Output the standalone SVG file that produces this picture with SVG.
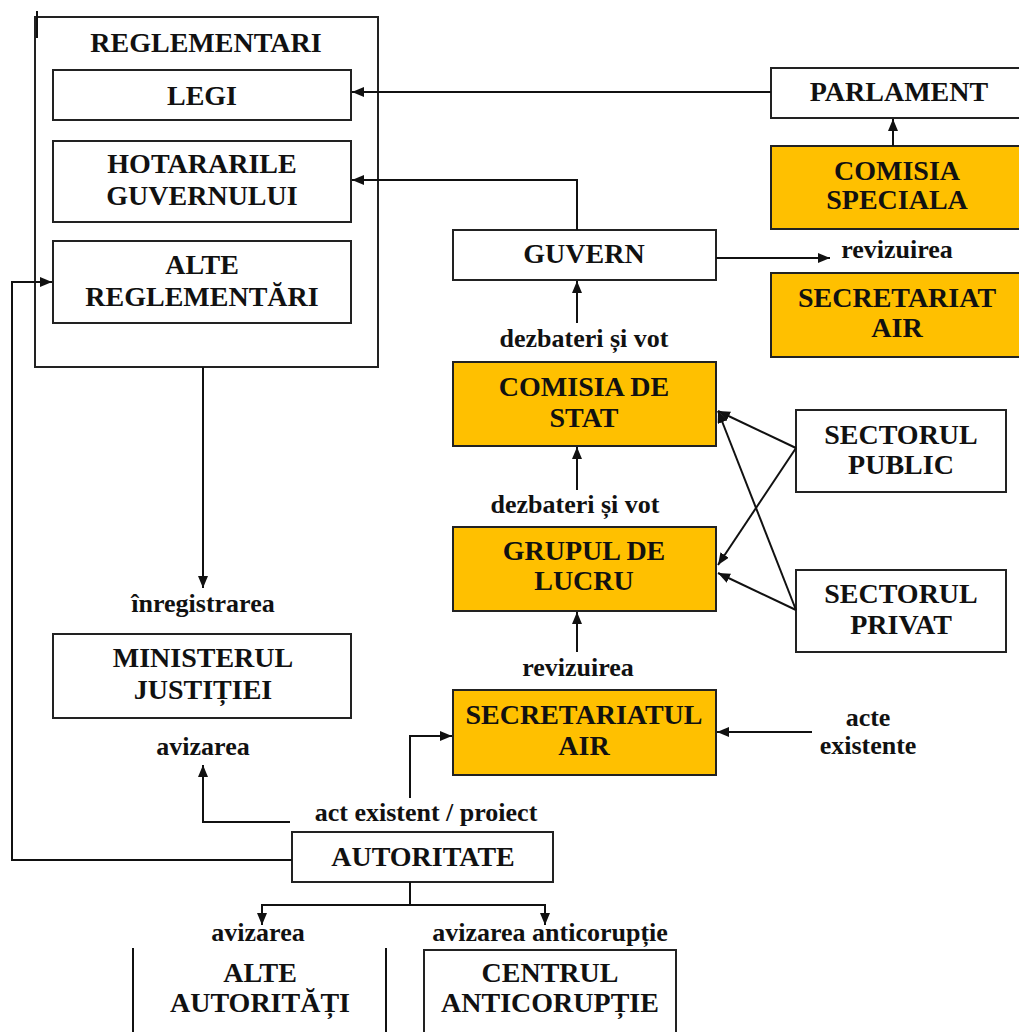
<svg xmlns="http://www.w3.org/2000/svg" width="1019" height="1032" viewBox="0 0 1019 1032">
  <defs>
    <marker id="arr" viewBox="0 0 12 10" refX="12" refY="5" markerWidth="12" markerHeight="10" markerUnits="userSpaceOnUse" orient="auto">
      <path d="M0,0 L12,5 L0,10 z" fill="#111"/>
    </marker>
    <style>
      .box { fill: #ffffff; stroke: #222; stroke-width: 2; }
      .hl { fill: #FFC000; stroke: #222; stroke-width: 2; }
      .t { font-family: "Liberation Serif", "Times New Roman", serif; font-weight: bold; font-size: 28px; fill: #111; text-anchor: middle; }
      .lbl { font-family: "Liberation Serif", "Times New Roman", serif; font-weight: bold; font-size: 26px; fill: #111; text-anchor: middle; }
      .c { fill: none; stroke: #111; stroke-width: 2; }
      .ca { fill: none; stroke: #111; stroke-width: 2; marker-end: url(#arr); }
    </style>
  </defs>
  <rect width="1019" height="1032" fill="#ffffff"/>

  <!-- Regulations container -->
  <g id="reglementari">
    <rect class="box" x="35" y="17" width="343" height="350"/>
    <line x1="37" y1="11" x2="37" y2="38" stroke="#111" stroke-width="2"/>
    <text class="t" x="206" y="52">REGLEMENTARI</text>
  </g>
  <g id="legi">
    <rect class="box" x="53" y="70" width="298" height="50"/>
    <text class="t" x="202" y="105">LEGI</text>
  </g>
  <g id="hotararile">
    <rect class="box" x="53" y="141" width="298" height="81"/>
    <text class="t" x="202" y="173">HOTARARILE</text>
    <text class="t" x="202" y="205">GUVERNULUI</text>
  </g>
  <g id="alte-reglementari">
    <rect class="box" x="53" y="241" width="298" height="82"/>
    <text class="t" x="202" y="274">ALTE</text>
    <text class="t" x="202" y="306">REGLEMENTĂRI</text>
  </g>

  <!-- Parliament side -->
  <g id="parlament">
    <rect class="box" x="771" y="68" width="260" height="50"/>
    <text class="t" x="899" y="101">PARLAMENT</text>
  </g>
  <g id="comisia-speciala">
    <rect class="hl" x="771" y="146" width="260" height="83"/>
    <text class="t" x="897" y="180">COMISIA</text>
    <text class="t" x="897" y="209">SPECIALA</text>
  </g>
  <g id="secretariat-air">
    <rect class="hl" x="771" y="273" width="260" height="84"/>
    <text class="t" x="897" y="307">SECRETARIAT</text>
    <text class="t" x="897" y="337">AIR</text>
  </g>

  <!-- Government chain -->
  <g id="guvern">
    <rect class="box" x="453" y="230" width="263" height="50"/>
    <text class="t" x="584" y="263">GUVERN</text>
  </g>
  <g id="comisia-de-stat">
    <rect class="hl" x="453" y="362" width="263" height="84"/>
    <text class="t" x="584" y="396">COMISIA DE</text>
    <text class="t" x="584" y="427">STAT</text>
  </g>
  <g id="grupul-de-lucru">
    <rect class="hl" x="453" y="527" width="263" height="84"/>
    <text class="t" x="584" y="560">GRUPUL DE</text>
    <text class="t" x="584" y="590">LUCRU</text>
  </g>
  <g id="secretariatul-air">
    <rect class="hl" x="453" y="690" width="263" height="85"/>
    <text class="t" x="584" y="724">SECRETARIATUL</text>
    <text class="t" x="584" y="755">AIR</text>
  </g>

  <!-- Sectors -->
  <g id="sectorul-public">
    <rect class="box" x="796" y="410" width="210" height="82"/>
    <text class="t" x="901" y="444">SECTORUL</text>
    <text class="t" x="901" y="474">PUBLIC</text>
  </g>
  <g id="sectorul-privat">
    <rect class="box" x="796" y="570" width="210" height="82"/>
    <text class="t" x="901" y="603">SECTORUL</text>
    <text class="t" x="901" y="634">PRIVAT</text>
  </g>

  <!-- Lower left -->
  <g id="ministerul-justitiei">
    <rect class="box" x="53" y="634" width="298" height="84"/>
    <text class="t" x="203" y="667">MINISTERUL</text>
    <text class="t" x="203" y="699">JUSTIȚIEI</text>
  </g>
  <g id="autoritate">
    <rect class="box" x="292" y="832" width="261" height="50"/>
    <text class="t" x="423" y="866">AUTORITATE</text>
  </g>
  <g id="alte-autoritati">
    <line class="c" x1="133" y1="948" x2="133" y2="1034"/>
    <line class="c" x1="386" y1="948" x2="386" y2="1034"/>
    <text class="t" x="260" y="982">ALTE</text>
    <text class="t" x="260" y="1012">AUTORITĂȚI</text>
  </g>
  <g id="centrul-anticoruptie">
    <rect class="box" x="424" y="950" width="252" height="90"/>
    <text class="t" x="550" y="982">CENTRUL</text>
    <text class="t" x="550" y="1012">ANTICORUPȚIE</text>
  </g>

  <!-- Connectors and their labels -->
  <g id="connectors">
    <line class="ca" x1="771" y1="92" x2="352" y2="92"/>
    <polyline class="ca" points="577,230 577,180 352,180"/>
    <line class="ca" x1="893" y1="146" x2="893" y2="119"/>
    <line class="ca" x1="716" y1="258" x2="830" y2="258"/>
    <text class="lbl" x="897" y="258">revizuirea</text>

    <line class="ca" x1="577" y1="323" x2="577" y2="281"/>
    <text class="lbl" x="584" y="347">dezbateri și vot</text>

    <line class="ca" x1="577" y1="490" x2="577" y2="447"/>
    <text class="lbl" x="575" y="513">dezbateri și vot</text>

    <line class="ca" x1="577" y1="652" x2="577" y2="612"/>
    <text class="lbl" x="578" y="676">revizuirea</text>

    <line class="ca" x1="796" y1="448" x2="718" y2="411"/>
    <line class="ca" x1="796" y1="448" x2="718" y2="565"/>
    <line class="ca" x1="796" y1="610" x2="718" y2="411"/>
    <line class="ca" x1="796" y1="610" x2="718" y2="573"/>

    <line class="ca" x1="812" y1="732" x2="717" y2="732"/>
    <text class="lbl" x="868" y="726">acte</text>
    <text class="lbl" x="868" y="754">existente</text>

    <polyline class="ca" points="410,798 410,736 452,736"/>
    <polyline class="ca" points="290,822 203,822 203,765"/>
    <text class="lbl" x="203" y="755">avizarea</text>
    <text class="lbl" x="426" y="821">act existent / proiect</text>

    <line class="ca" x1="203" y1="367" x2="203" y2="588"/>
    <text class="lbl" x="203" y="612">înregistrarea</text>

    <polyline class="ca" points="292,860 12,860 12,282 52,282"/>

    <line class="c" x1="410" y1="882" x2="410" y2="905"/>
    <polyline class="ca" points="410,905 262,905 262,925"/>
    <polyline class="ca" points="410,905 545,905 545,925"/>
    <text class="lbl" x="258" y="941">avizarea</text>
    <text class="lbl" x="550" y="941">avizarea anticorupție</text>
  </g>
</svg>
